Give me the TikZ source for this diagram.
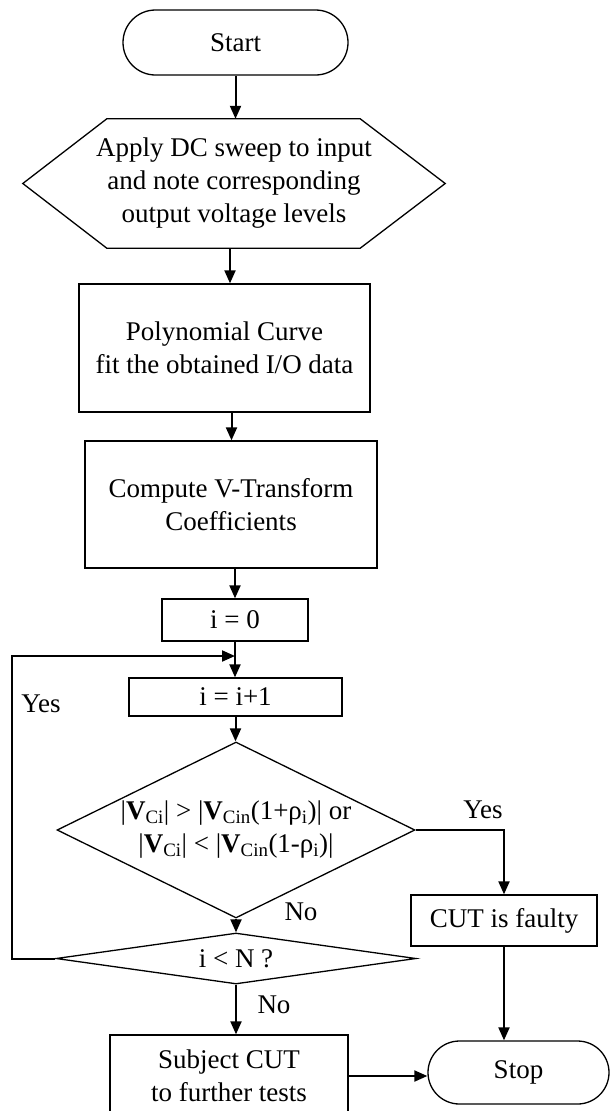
\documentclass[tikz,border=0pt]{standalone}
\usepackage{fontspec}
\setmainfont{Liberation Serif}
\usetikzlibrary{shapes.geometric,shapes.misc,arrows.meta,calc}
\begin{document}
\begin{tikzpicture}[x=1pt,y=-1pt,
  every node/.style={font=\fontsize{27}{33}\selectfont},
  shp/.style={draw, line width=1.3pt, align=center, inner sep=0pt},
  term/.style={shp, rounded rectangle},
  procbox/.style={shp, rectangle},
  decide/.style={shp, diamond},
  arr/.style={line width=2pt, -{Triangle[length=13pt,width=11pt]}},
  lbl/.style={inner sep=0pt}]

\useasboundingbox (0,0) rectangle (610,1111);
\clip (0,0) rectangle (610,1111);

\node[term, minimum width=225pt, minimum height=65pt] (start) at (235.5,42.5) {Start};
\node[align=center, minimum width=422pt, minimum height=129pt, inner sep=0pt] (hex) at (234,183.5)
  {Apply DC sweep to input\\and note corresponding\\output voltage levels};
\draw[line width=1.3pt] (hex.west) -- ($(hex.north west)+(84,0)$) -- ($(hex.north east)+(-85,0)$)
  -- (hex.east) -- ($(hex.south east)+(-85,0)$) -- ($(hex.south west)+(84,0)$) -- cycle;

\node[procbox, minimum width=291pt, minimum height=128pt] (fit) at (224.5,348) {Polynomial Curve\\fit the obtained I/O data};
\node[procbox, minimum width=292pt, minimum height=127pt] (coef) at (231,504.5) {Compute V-Transform\\Coefficients};
\node[procbox, minimum width=146pt, minimum height=42pt] (init) at (235,620) {i = 0};
\node[procbox, minimum width=213pt, minimum height=38pt] (incr) at (235.5,697) {i = i+1};
\node[decide, shape aspect=2.03, minimum width=358pt, minimum height=176pt] (cmp) at (236,830)
  {|\textbf{V}\textsubscript{Ci}| > |\textbf{V}\textsubscript{Cin}(1+ρ\textsubscript{i})| or\\
   |\textbf{V}\textsubscript{Ci}| < |\textbf{V}\textsubscript{Cin}(1-ρ\textsubscript{i})|};
\node[decide, shape aspect=7, minimum width=360pt, minimum height=51pt] (last) at (236,958.5) {i < N ?};
\node[procbox, minimum width=186pt, minimum height=51pt] (cut) at (504,920.5) {CUT is faulty};
\node[procbox, minimum width=238pt, minimum height=82pt] (subj) at (229,1076) {Subject CUT\\to further tests};
\node[term, minimum width=181pt, minimum height=63pt] (stop) at (518.5,1072.5) {Stop};

\node[lbl] (yesL) at (41,704) {Yes};
\node[lbl] (yesR) at (483,810) {Yes};
\node[lbl] (noA) at (301,912) {No};
\node[lbl] (noB) at (274,1005) {No};

\coordinate (join) at (235,656);
\coordinate (lc) at (12,960);

\draw[arr] (start.south) -- (start.south |- hex.north);
\draw[arr] ([xshift=5.5pt]fit.north |- hex.south) -- ([xshift=5.5pt]fit.north);
\draw[arr] ([xshift=0.5pt]coef.north |- fit.south) -- ([xshift=0.5pt]coef.north);
\draw[arr] ([xshift=4pt]coef.south) -- ([xshift=4pt]coef.south |- init.north);
\draw[arr] (init.south) -- (init.south |- incr.north);
\draw[arr] (incr.south) -- (incr.south |- cmp.north);
\draw[arr] (cmp.south) -- (cmp.south |- last.north);
\draw[arr] (cmp.east) -| (cut.north);
\draw[arr] (last.south) -- (last.south |- subj.north);
\draw[arr] (cut.south) -- (cut.south |- stop.north);
\draw[arr] (subj.east) -- (subj.east -| stop.west);
\draw[arr] (last.west) -- (last.west -| lc) |- (join);
\end{tikzpicture}
\end{document}
